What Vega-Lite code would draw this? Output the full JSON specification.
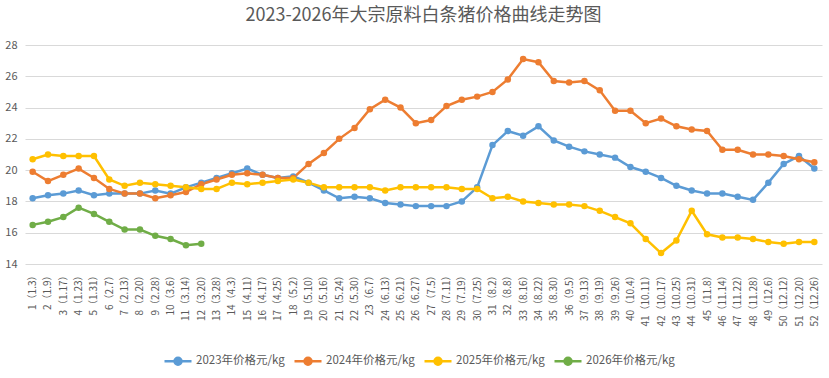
{
  "$schema": "https://vega.github.io/schema/vega-lite/v6.json",
  "width": 797,
  "height": 219,
  "autosize": {"type": "none"},
  "padding": {"left": 25, "top": 45, "right": 7, "bottom": 114},
  "background": "white",
  "title": {"text": "2023-2026年大宗原料白条猪价格曲线走势图", "fontSize": 18, "fontWeight": "normal", "color": "#595959", "font": "Noto Sans CJK SC", "anchor": "middle", "offset": 14},
  "config": {"view": {"stroke": null}, "font": "Noto Sans CJK SC"},
  "datasets": {
    "weeks": [
      {"n":1,"w":"1（1.3）"},{"n":2,"w":"2（1.9）"},{"n":3,"w":"3（1.17）"},{"n":4,"w":"4（1.23）"},{"n":5,"w":"5（1.31）"},{"n":6,"w":"6（2.7）"},{"n":7,"w":"7（2.13）"},{"n":8,"w":"8（2.20）"},{"n":9,"w":"9（2.28）"},{"n":10,"w":"10（3.6）"},{"n":11,"w":"11（3.14）"},{"n":12,"w":"12（3.20）"},{"n":13,"w":"13（3.28）"},{"n":14,"w":"14（4.3）"},{"n":15,"w":"15（4.11）"},{"n":16,"w":"16（4.17）"},{"n":17,"w":"17（4.25）"},{"n":18,"w":"18（5.2）"},{"n":19,"w":"19（5.10）"},{"n":20,"w":"20（5.16）"},{"n":21,"w":"21（5.24）"},{"n":22,"w":"22（5.30）"},{"n":23,"w":"23（6.7）"},{"n":24,"w":"24（6.13）"},{"n":25,"w":"25（6.21）"},{"n":26,"w":"26（6.27）"},{"n":27,"w":"27（7.5）"},{"n":28,"w":"28（7.11）"},{"n":29,"w":"29（7.19）"},{"n":30,"w":"30（7.25）"},{"n":31,"w":"31（8.2）"},{"n":32,"w":"32（8.8）"},{"n":33,"w":"33（8.16）"},{"n":34,"w":"34（8.22）"},{"n":35,"w":"35（8.30）"},{"n":36,"w":"36（9.5）"},{"n":37,"w":"37（9.13）"},{"n":38,"w":"38（9.19）"},{"n":39,"w":"39（9.26）"},{"n":40,"w":"40（10.4）"},{"n":41,"w":"41（10.11）"},{"n":42,"w":"42（10.17）"},{"n":43,"w":"43（10.25）"},{"n":44,"w":"44（10.31）"},{"n":45,"w":"45（11.8）"},{"n":46,"w":"46（11.14）"},{"n":47,"w":"47（11.22）"},{"n":48,"w":"48（11.28）"},{"n":49,"w":"49（12.6）"},{"n":50,"w":"50（12.12）"},{"n":51,"w":"51（12.20）"},{"n":52,"w":"52（12.26）"}
    ],
    "prices": [
      {"n":1,"s":"2023年价格元/kg","p":18.2},{"n":2,"s":"2023年价格元/kg","p":18.4},{"n":3,"s":"2023年价格元/kg","p":18.5},{"n":4,"s":"2023年价格元/kg","p":18.7},{"n":5,"s":"2023年价格元/kg","p":18.4},{"n":6,"s":"2023年价格元/kg","p":18.5},{"n":7,"s":"2023年价格元/kg","p":18.5},{"n":8,"s":"2023年价格元/kg","p":18.5},{"n":9,"s":"2023年价格元/kg","p":18.7},{"n":10,"s":"2023年价格元/kg","p":18.5},{"n":11,"s":"2023年价格元/kg","p":18.9},{"n":12,"s":"2023年价格元/kg","p":19.2},{"n":13,"s":"2023年价格元/kg","p":19.5},{"n":14,"s":"2023年价格元/kg","p":19.8},{"n":15,"s":"2023年价格元/kg","p":20.1},{"n":16,"s":"2023年价格元/kg","p":19.7},{"n":17,"s":"2023年价格元/kg","p":19.5},{"n":18,"s":"2023年价格元/kg","p":19.6},{"n":19,"s":"2023年价格元/kg","p":19.2},{"n":20,"s":"2023年价格元/kg","p":18.7},{"n":21,"s":"2023年价格元/kg","p":18.2},{"n":22,"s":"2023年价格元/kg","p":18.3},{"n":23,"s":"2023年价格元/kg","p":18.2},{"n":24,"s":"2023年价格元/kg","p":17.9},{"n":25,"s":"2023年价格元/kg","p":17.8},{"n":26,"s":"2023年价格元/kg","p":17.7},{"n":27,"s":"2023年价格元/kg","p":17.7},{"n":28,"s":"2023年价格元/kg","p":17.7},{"n":29,"s":"2023年价格元/kg","p":18.0},{"n":30,"s":"2023年价格元/kg","p":18.9},{"n":31,"s":"2023年价格元/kg","p":21.6},{"n":32,"s":"2023年价格元/kg","p":22.5},{"n":33,"s":"2023年价格元/kg","p":22.2},{"n":34,"s":"2023年价格元/kg","p":22.8},{"n":35,"s":"2023年价格元/kg","p":21.9},{"n":36,"s":"2023年价格元/kg","p":21.5},{"n":37,"s":"2023年价格元/kg","p":21.2},{"n":38,"s":"2023年价格元/kg","p":21.0},{"n":39,"s":"2023年价格元/kg","p":20.8},{"n":40,"s":"2023年价格元/kg","p":20.2},{"n":41,"s":"2023年价格元/kg","p":19.9},{"n":42,"s":"2023年价格元/kg","p":19.5},{"n":43,"s":"2023年价格元/kg","p":19.0},{"n":44,"s":"2023年价格元/kg","p":18.7},{"n":45,"s":"2023年价格元/kg","p":18.5},{"n":46,"s":"2023年价格元/kg","p":18.5},{"n":47,"s":"2023年价格元/kg","p":18.3},{"n":48,"s":"2023年价格元/kg","p":18.1},{"n":49,"s":"2023年价格元/kg","p":19.2},{"n":50,"s":"2023年价格元/kg","p":20.4},{"n":51,"s":"2023年价格元/kg","p":20.9},{"n":52,"s":"2023年价格元/kg","p":20.1},
      {"n":1,"s":"2024年价格元/kg","p":19.9},{"n":2,"s":"2024年价格元/kg","p":19.3},{"n":3,"s":"2024年价格元/kg","p":19.7},{"n":4,"s":"2024年价格元/kg","p":20.1},{"n":5,"s":"2024年价格元/kg","p":19.5},{"n":6,"s":"2024年价格元/kg","p":18.8},{"n":7,"s":"2024年价格元/kg","p":18.5},{"n":8,"s":"2024年价格元/kg","p":18.5},{"n":9,"s":"2024年价格元/kg","p":18.2},{"n":10,"s":"2024年价格元/kg","p":18.4},{"n":11,"s":"2024年价格元/kg","p":18.6},{"n":12,"s":"2024年价格元/kg","p":19.1},{"n":13,"s":"2024年价格元/kg","p":19.4},{"n":14,"s":"2024年价格元/kg","p":19.7},{"n":15,"s":"2024年价格元/kg","p":19.8},{"n":16,"s":"2024年价格元/kg","p":19.7},{"n":17,"s":"2024年价格元/kg","p":19.5},{"n":18,"s":"2024年价格元/kg","p":19.5},{"n":19,"s":"2024年价格元/kg","p":20.4},{"n":20,"s":"2024年价格元/kg","p":21.1},{"n":21,"s":"2024年价格元/kg","p":22.0},{"n":22,"s":"2024年价格元/kg","p":22.7},{"n":23,"s":"2024年价格元/kg","p":23.9},{"n":24,"s":"2024年价格元/kg","p":24.5},{"n":25,"s":"2024年价格元/kg","p":24.0},{"n":26,"s":"2024年价格元/kg","p":23.0},{"n":27,"s":"2024年价格元/kg","p":23.2},{"n":28,"s":"2024年价格元/kg","p":24.1},{"n":29,"s":"2024年价格元/kg","p":24.5},{"n":30,"s":"2024年价格元/kg","p":24.7},{"n":31,"s":"2024年价格元/kg","p":25.0},{"n":32,"s":"2024年价格元/kg","p":25.8},{"n":33,"s":"2024年价格元/kg","p":27.1},{"n":34,"s":"2024年价格元/kg","p":26.9},{"n":35,"s":"2024年价格元/kg","p":25.7},{"n":36,"s":"2024年价格元/kg","p":25.6},{"n":37,"s":"2024年价格元/kg","p":25.7},{"n":38,"s":"2024年价格元/kg","p":25.1},{"n":39,"s":"2024年价格元/kg","p":23.8},{"n":40,"s":"2024年价格元/kg","p":23.8},{"n":41,"s":"2024年价格元/kg","p":23.0},{"n":42,"s":"2024年价格元/kg","p":23.3},{"n":43,"s":"2024年价格元/kg","p":22.8},{"n":44,"s":"2024年价格元/kg","p":22.6},{"n":45,"s":"2024年价格元/kg","p":22.5},{"n":46,"s":"2024年价格元/kg","p":21.3},{"n":47,"s":"2024年价格元/kg","p":21.3},{"n":48,"s":"2024年价格元/kg","p":21.0},{"n":49,"s":"2024年价格元/kg","p":21.0},{"n":50,"s":"2024年价格元/kg","p":20.9},{"n":51,"s":"2024年价格元/kg","p":20.7},{"n":52,"s":"2024年价格元/kg","p":20.5},
      {"n":1,"s":"2025年价格元/kg","p":20.7},{"n":2,"s":"2025年价格元/kg","p":21.0},{"n":3,"s":"2025年价格元/kg","p":20.9},{"n":4,"s":"2025年价格元/kg","p":20.9},{"n":5,"s":"2025年价格元/kg","p":20.9},{"n":6,"s":"2025年价格元/kg","p":19.4},{"n":7,"s":"2025年价格元/kg","p":19.0},{"n":8,"s":"2025年价格元/kg","p":19.2},{"n":9,"s":"2025年价格元/kg","p":19.1},{"n":10,"s":"2025年价格元/kg","p":19.0},{"n":11,"s":"2025年价格元/kg","p":18.9},{"n":12,"s":"2025年价格元/kg","p":18.8},{"n":13,"s":"2025年价格元/kg","p":18.8},{"n":14,"s":"2025年价格元/kg","p":19.2},{"n":15,"s":"2025年价格元/kg","p":19.1},{"n":16,"s":"2025年价格元/kg","p":19.2},{"n":17,"s":"2025年价格元/kg","p":19.3},{"n":18,"s":"2025年价格元/kg","p":19.4},{"n":19,"s":"2025年价格元/kg","p":19.2},{"n":20,"s":"2025年价格元/kg","p":18.9},{"n":21,"s":"2025年价格元/kg","p":18.9},{"n":22,"s":"2025年价格元/kg","p":18.9},{"n":23,"s":"2025年价格元/kg","p":18.9},{"n":24,"s":"2025年价格元/kg","p":18.7},{"n":25,"s":"2025年价格元/kg","p":18.9},{"n":26,"s":"2025年价格元/kg","p":18.9},{"n":27,"s":"2025年价格元/kg","p":18.9},{"n":28,"s":"2025年价格元/kg","p":18.9},{"n":29,"s":"2025年价格元/kg","p":18.8},{"n":30,"s":"2025年价格元/kg","p":18.8},{"n":31,"s":"2025年价格元/kg","p":18.2},{"n":32,"s":"2025年价格元/kg","p":18.3},{"n":33,"s":"2025年价格元/kg","p":18.0},{"n":34,"s":"2025年价格元/kg","p":17.9},{"n":35,"s":"2025年价格元/kg","p":17.8},{"n":36,"s":"2025年价格元/kg","p":17.8},{"n":37,"s":"2025年价格元/kg","p":17.7},{"n":38,"s":"2025年价格元/kg","p":17.4},{"n":39,"s":"2025年价格元/kg","p":17.0},{"n":40,"s":"2025年价格元/kg","p":16.6},{"n":41,"s":"2025年价格元/kg","p":15.6},{"n":42,"s":"2025年价格元/kg","p":14.7},{"n":43,"s":"2025年价格元/kg","p":15.5},{"n":44,"s":"2025年价格元/kg","p":17.4},{"n":45,"s":"2025年价格元/kg","p":15.9},{"n":46,"s":"2025年价格元/kg","p":15.7},{"n":47,"s":"2025年价格元/kg","p":15.7},{"n":48,"s":"2025年价格元/kg","p":15.6},{"n":49,"s":"2025年价格元/kg","p":15.4},{"n":50,"s":"2025年价格元/kg","p":15.3},{"n":51,"s":"2025年价格元/kg","p":15.4},{"n":52,"s":"2025年价格元/kg","p":15.4},
      {"n":1,"s":"2026年价格元/kg","p":16.5},{"n":2,"s":"2026年价格元/kg","p":16.7},{"n":3,"s":"2026年价格元/kg","p":17.0},{"n":4,"s":"2026年价格元/kg","p":17.6},{"n":5,"s":"2026年价格元/kg","p":17.2},{"n":6,"s":"2026年价格元/kg","p":16.7},{"n":7,"s":"2026年价格元/kg","p":16.2},{"n":8,"s":"2026年价格元/kg","p":16.2},{"n":9,"s":"2026年价格元/kg","p":15.8},{"n":10,"s":"2026年价格元/kg","p":15.6},{"n":11,"s":"2026年价格元/kg","p":15.2},{"n":12,"s":"2026年价格元/kg","p":15.3}
    ]
  },
  "data": {"name": "prices"},
  "transform": [
    {"lookup": "n", "from": {"data": {"name": "weeks"}, "key": "n", "fields": ["w"]}}
  ],
  "mark": {"type": "line", "strokeWidth": 2.5, "point": {"filled": true, "size": 42, "opacity": 1}},
  "encoding": {
    "x": {
      "field": "w", "type": "ordinal", "sort": {"field": "n", "op": "min"},
      "scale": {"type": "point", "padding": 0.5},
      "axis": {"title": null, "labelAngle": 270, "labelFontSize": 10, "labelColor": "#595959", "labelPadding": 6, "domain": false, "ticks": false, "grid": false, "labelOverlap": false, "labelFont": "Noto Sans CJK SC"}
    },
    "y": {
      "field": "p", "type": "quantitative",
      "scale": {"domain": [14, 28], "nice": false, "zero": false},
      "axis": {"title": null, "values": [14, 16, 18, 20, 22, 24, 26, 28], "labelFontSize": 11, "labelColor": "#595959", "labelPadding": 8, "domain": false, "ticks": false, "gridColor": "#d9d9d9", "gridWidth": 1}
    },
    "color": {
      "field": "s", "type": "nominal",
      "scale": {"domain": ["2023年价格元/kg", "2024年价格元/kg", "2025年价格元/kg", "2026年价格元/kg"], "range": ["#5B9BD5", "#ED7D31", "#FFC000", "#70AD47"]},
      "legend": {
        "title": null, "orient": "none", "legendX": 138, "legendY": 301, "direction": "horizontal",
        "labelFontSize": 11.5, "labelColor": "#595959", "labelOffset": 3, "columnPadding": 4,
        "symbolType": "M-1,0L1,0M-0.26,0A0.26,0.26,0,1,1,0.26,0A0.26,0.26,0,1,1,-0.26,0Z",
        "symbolSize": 729, "symbolStrokeWidth": 2.5,
        "encode": {"symbols": {"update": {"fill": {"scale": "color", "field": "value"}, "fillOpacity": {"value": 1}}}}
      }
    },
    "order": {"field": "n", "type": "quantitative"}
  }
}
